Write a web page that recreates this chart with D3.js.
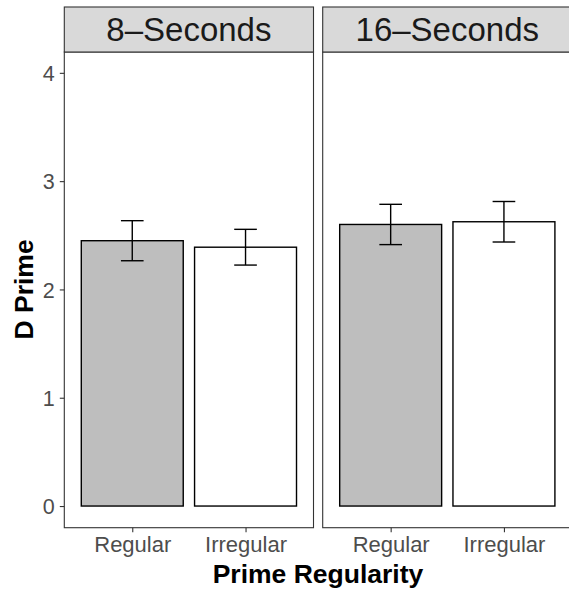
<!DOCTYPE html>
<html><head><meta charset="utf-8">
<script src="https://cdn.jsdelivr.net/npm/d3@7"></script>
<style>body{margin:0;background:#fff}svg{display:block}text{font-family:"Liberation Sans",Arial,Helvetica,sans-serif}</style>
</head><body>
<script>
const panels = ["8\u2013Seconds", "16\u2013Seconds"];
const categories = ["Regular", "Irregular"];
const means8 = [2.45, 2.39];
const se8 = [0.185, 0.165];
const means16 = [2.60, 2.625];
const se16 = [0.186, 0.187];
const yTicks = [0, 1, 2, 3, 4];
const fills = ["#bebebe", "#ffffff"];

const W = 569, H = 594;
const svg = d3.select("body").append("svg").attr("width", W).attr("height", H);

const panelTop = 52, panelBottom = 527.7, stripTop = 7;
const panelW = 249.2;
const panelLefts = [64.3, 322.7];

const y = d3.scaleLinear().domain([-0.2, 4.2]).range([panelBottom, panelBottom - 4.4 * 108.3]);

const data = [
  categories.map((c, i) => ({cat: c, m: means8[i], se: se8[i], fill: fills[i]})),
  categories.map((c, i) => ({cat: c, m: means16[i], se: se16[i], fill: fills[i]}))
];

panels.forEach((p, pi) => {
  const L = panelLefts[pi];
  const x = d3.scalePoint().domain(categories).range([L + 0.6 * panelW / 2.2, L + panelW - 0.6 * panelW / 2.2]);
  const unit = panelW / 2.2;
  const g = svg.append("g");
  g.append("rect").attr("x", L).attr("y", panelTop).attr("width", panelW).attr("height", panelBottom - panelTop)
    .attr("fill", "#fff");
  g.selectAll("rect.bar").data(data[pi]).join("rect").attr("class", "bar")
    .attr("x", d => x(d.cat) - 0.45 * unit).attr("width", 0.9 * unit)
    .attr("y", d => y(d.m)).attr("height", d => y(0) - y(d.m))
    .attr("fill", d => d.fill).attr("stroke", "#000").attr("stroke-width", 1.4);
  const eb = g.selectAll("g.eb").data(data[pi]).join("g").attr("class", "eb")
    .attr("stroke", "#000").attr("stroke-width", 1.4);
  eb.append("line").attr("x1", d => x(d.cat)).attr("x2", d => x(d.cat))
    .attr("y1", d => y(d.m + d.se)).attr("y2", d => y(d.m - d.se));
  eb.append("line").attr("x1", d => x(d.cat) - 0.1 * unit).attr("x2", d => x(d.cat) + 0.1 * unit)
    .attr("y1", d => y(d.m + d.se)).attr("y2", d => y(d.m + d.se));
  eb.append("line").attr("x1", d => x(d.cat) - 0.1 * unit).attr("x2", d => x(d.cat) + 0.1 * unit)
    .attr("y1", d => y(d.m - d.se)).attr("y2", d => y(d.m - d.se));
  g.append("rect").attr("x", L).attr("y", panelTop).attr("width", panelW).attr("height", panelBottom - panelTop)
    .attr("fill", "none").attr("stroke", "#333").attr("stroke-width", 1.1);
  g.append("rect").attr("x", L).attr("y", stripTop).attr("width", panelW).attr("height", panelTop - stripTop)
    .attr("fill", "#d9d9d9").attr("stroke", "#333").attr("stroke-width", 1.1);
  g.append("text").attr("x", L + panelW / 2).attr("y", 41).attr("text-anchor", "middle")
    .attr("font-size", 33).attr("fill", "#1a1a1a").text(p);
  const xa = g.append("g").attr("transform", `translate(0,${panelBottom})`)
    .call(d3.axisBottom(x).tickSize(4.5).tickPadding(3));
  xa.select(".domain").remove();
  xa.selectAll("line").attr("stroke", "#333").attr("stroke-width", 1.1);
  xa.selectAll("text").attr("font-size", 22).attr("fill", "#4d4d4d").attr("dy", "0.76em");
  if (pi === 0) {
    const ya = g.append("g").attr("transform", `translate(${L},0)`)
      .call(d3.axisLeft(y).tickValues(yTicks).tickFormat(d3.format("d")).tickSize(4.5).tickPadding(5));
    ya.select(".domain").remove();
    ya.selectAll("line").attr("stroke", "#333").attr("stroke-width", 1.1);
    ya.selectAll("text").attr("font-size", 21.5).attr("fill", "#4d4d4d").attr("dy", "0.36em");
  }
});

svg.append("text").attr("x", 318).attr("y", 583).attr("text-anchor", "middle")
  .attr("font-size", 26.5).attr("font-weight", "bold").attr("fill", "#000").text("Prime Regularity");
svg.append("text").attr("transform", `translate(33,${y(2)}) rotate(-90)`).attr("text-anchor", "middle")
  .attr("font-size", 26.5).attr("font-weight", "bold").attr("fill", "#000").text("D Prime");
</script>
</body></html>
